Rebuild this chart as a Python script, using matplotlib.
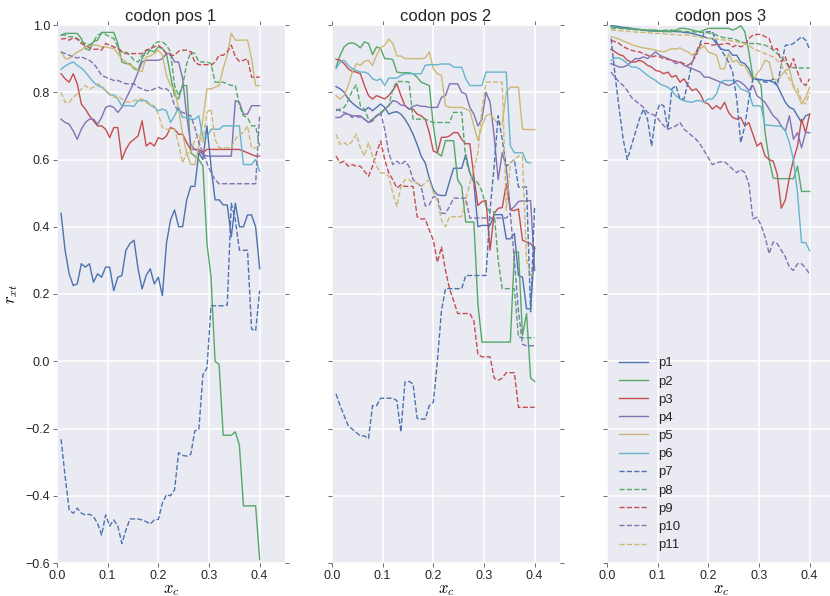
import numpy as np
import matplotlib
matplotlib.use("Agg")
import matplotlib.pyplot as plt

# sampling grid of the cutoff x_c
x_c = np.round(np.arange(1, 51) * 0.008, 3)

series_names = ["p1", "p2", "p3", "p4", "p5", "p6", "p7", "p8", "p9", "p10", "p11"]
panel_titles = ["codon pos 1", "codon pos 2", "codon pos 3"]

# ---- codon pos 1 ----
c1_p1 = [0.44,0.33,0.26,0.225,0.23,0.29,0.28,0.29,0.235,0.26, 0.25,0.28,0.28,0.21,0.25,0.255,0.33,0.35,0.36,0.275, 0.215,0.255,0.275,0.23,0.25,0.195,0.35,0.42,0.45,0.40, 0.40,0.48,0.52,0.52,0.62,0.60,0.70,0.58,0.48,0.48, 0.465,0.465,0.37,0.47,0.40,0.40,0.435,0.435,0.40,0.275]
c1_p2 = [0.97,0.975,0.975,0.975,0.975,0.96,0.93,0.925,0.95,0.955, 0.978,0.978,0.978,0.978,0.945,0.89,0.885,0.885,0.87,0.865, 0.90,0.925,0.925,0.92,0.935,0.93,0.915,0.85,0.79,0.78, 0.82,0.82,0.62,0.61,0.60,0.58,0.35,0.25,0.0,-0.01, -0.22,-0.22,-0.22,-0.21,-0.25,-0.43,-0.43,-0.43,-0.43,-0.59]
c1_p3 = [0.855,0.84,0.83,0.855,0.825,0.765,0.75,0.73,0.715,0.70, 0.70,0.69,0.665,0.695,0.695,0.60,0.63,0.65,0.66,0.67, 0.715,0.64,0.65,0.64,0.665,0.66,0.67,0.695,0.69,0.675, 0.675,0.65,0.63,0.63,0.63,0.62,0.63,0.63,0.63,0.63, 0.63,0.63,0.63,0.63,0.63,0.625,0.62,0.615,0.61,0.61]
c1_p4 = [0.72,0.71,0.705,0.685,0.66,0.69,0.71,0.72,0.72,0.705, 0.725,0.755,0.76,0.755,0.74,0.755,0.78,0.805,0.83,0.86, 0.89,0.895,0.895,0.895,0.895,0.90,0.915,0.915,0.89,0.89, 0.84,0.73,0.645,0.63,0.625,0.615,0.61,0.61,0.61,0.61, 0.61,0.61,0.61,0.775,0.77,0.735,0.735,0.76,0.76,0.76]
c1_p5 = [0.92,0.90,0.90,0.91,0.92,0.925,0.935,0.94,0.94,0.94, 0.935,0.935,0.932,0.93,0.915,0.90,0.89,0.88,0.875,0.865, 0.862,0.905,0.908,0.915,0.925,0.91,0.85,0.82,0.81,0.75, 0.675,0.62,0.585,0.585,0.64,0.72,0.81,0.81,0.815,0.82, 0.87,0.91,0.975,0.955,0.955,0.955,0.955,0.90,0.82,0.82]
c1_p6 = [0.868,0.878,0.885,0.89,0.88,0.872,0.86,0.845,0.83,0.82, 0.815,0.805,0.792,0.792,0.78,0.76,0.76,0.76,0.758,0.775, 0.775,0.775,0.762,0.755,0.745,0.75,0.745,0.71,0.73,0.755, 0.725,0.725,0.72,0.72,0.73,0.665,0.665,0.69,0.69,0.69, 0.70,0.70,0.70,0.70,0.70,0.585,0.585,0.585,0.60,0.565]
c1_p7 = [-0.232,-0.342,-0.442,-0.452,-0.437,-0.452,-0.457,-0.455,-0.462,-0.482, -0.517,-0.457,-0.49,-0.472,-0.49,-0.542,-0.502,-0.469,-0.469,-0.469, -0.472,-0.477,-0.484,-0.472,-0.47,-0.422,-0.397,-0.40,-0.382,-0.272, -0.28,-0.282,-0.277,-0.207,-0.202,-0.04,-0.02,0.165,0.165,0.165, 0.165,0.167,0.47,0.42,0.33,0.33,0.33,0.096,0.09,0.21]
c1_p8 = [0.97,0.97,0.965,0.965,0.96,0.95,0.945,0.94,0.95,0.97, 0.975,0.972,0.965,0.96,0.935,0.92,0.92,0.91,0.895,0.89, 0.91,0.91,0.925,0.945,0.95,0.95,0.94,0.92,0.82,0.79, 0.82,0.885,0.92,0.915,0.89,0.89,0.89,0.885,0.83,0.83, 0.83,0.825,0.82,0.82,0.76,0.73,0.725,0.70,0.70,0.64]
c1_p9 = [0.958,0.96,0.955,0.962,0.958,0.945,0.94,0.932,0.928,0.928, 0.925,0.945,0.94,0.935,0.93,0.92,0.915,0.915,0.915,0.915, 0.915,0.925,0.93,0.935,0.94,0.93,0.915,0.91,0.91,0.922, 0.925,0.925,0.92,0.89,0.882,0.882,0.882,0.88,0.89,0.91, 0.91,0.92,0.94,0.905,0.892,0.895,0.90,0.845,0.845,0.845]
c1_p10 = [0.92,0.915,0.91,0.905,0.902,0.905,0.90,0.895,0.885,0.87, 0.85,0.845,0.84,0.835,0.835,0.83,0.825,0.825,0.825,0.815, 0.81,0.805,0.805,0.81,0.815,0.81,0.81,0.80,0.76,0.745, 0.74,0.735,0.73,0.695,0.65,0.62,0.59,0.56,0.54,0.528, 0.528,0.528,0.528,0.528,0.528,0.528,0.528,0.528,0.528,0.73]
c1_p11 = [0.80,0.77,0.77,0.785,0.795,0.81,0.82,0.81,0.815,0.825, 0.82,0.805,0.795,0.785,0.79,0.78,0.772,0.77,0.775,0.78, 0.78,0.77,0.762,0.76,0.735,0.695,0.69,0.69,0.69,0.645, 0.59,0.62,0.62,0.66,0.675,0.65,0.74,0.75,0.66,0.635, 0.635,0.635,0.635,0.66,0.675,0.68,0.70,0.635,0.635,0.635]

# ---- codon pos 2 ----
c2_p1 = [0.817,0.81,0.80,0.78,0.768,0.758,0.75,0.745,0.755,0.745, 0.755,0.765,0.755,0.735,0.74,0.742,0.735,0.72,0.70,0.675, 0.645,0.61,0.59,0.545,0.51,0.495,0.493,0.493,0.535,0.574, 0.574,0.574,0.615,0.56,0.532,0.40,0.404,0.404,0.404,0.436, 0.436,0.436,0.364,0.364,0.38,0.255,0.25,0.156,0.156,0.34]
c2_p2 = [0.875,0.91,0.935,0.945,0.947,0.942,0.932,0.95,0.945,0.912, 0.935,0.93,0.90,0.90,0.897,0.86,0.858,0.858,0.858,0.855, 0.845,0.83,0.825,0.82,0.70,0.62,0.61,0.656,0.656,0.656, 0.54,0.52,0.414,0.414,0.414,0.17,0.057,0.057,0.057,0.057, 0.057,0.057,0.057,0.057,0.325,0.325,0.077,0.142,-0.05,-0.06]
c2_p3 = [0.898,0.895,0.885,0.87,0.862,0.86,0.855,0.82,0.79,0.78, 0.79,0.785,0.78,0.79,0.805,0.825,0.79,0.76,0.75,0.75, 0.735,0.73,0.72,0.68,0.625,0.62,0.666,0.666,0.67,0.68, 0.68,0.66,0.647,0.647,0.55,0.463,0.475,0.478,0.33,0.44, 0.455,0.457,0.528,0.45,0.448,0.453,0.36,0.354,0.35,0.335]
c2_p4 = [0.725,0.725,0.735,0.735,0.73,0.73,0.73,0.72,0.71,0.72, 0.73,0.735,0.75,0.76,0.775,0.772,0.762,0.76,0.75,0.758, 0.762,0.758,0.758,0.755,0.755,0.755,0.785,0.79,0.825,0.825, 0.825,0.80,0.795,0.755,0.735,0.70,0.72,0.80,0.77,0.67, 0.54,0.62,0.577,0.45,0.46,0.475,0.477,0.477,0.478,0.27]
c2_p5 = [0.79,0.78,0.79,0.82,0.86,0.885,0.88,0.892,0.895,0.88, 0.91,0.932,0.94,0.958,0.945,0.908,0.908,0.90,0.90,0.90, 0.90,0.90,0.902,0.92,0.87,0.855,0.85,0.76,0.755,0.755, 0.755,0.755,0.75,0.745,0.70,0.656,0.70,0.73,0.735,0.72, 0.706,0.706,0.80,0.815,0.815,0.815,0.69,0.689,0.689,0.689]
c2_p6 = [0.87,0.89,0.895,0.88,0.87,0.865,0.86,0.86,0.855,0.84, 0.835,0.84,0.82,0.842,0.842,0.842,0.85,0.855,0.855,0.855, 0.855,0.855,0.88,0.882,0.882,0.882,0.884,0.884,0.884,0.875, 0.874,0.874,0.84,0.82,0.82,0.82,0.82,0.86,0.86,0.86, 0.86,0.86,0.86,0.64,0.62,0.62,0.62,0.592,0.59,np.nan]
c2_p7 = [-0.097,-0.132,-0.162,-0.192,-0.202,-0.212,-0.222,-0.222,-0.23,-0.132, -0.132,-0.11,-0.11,-0.11,-0.11,-0.117,-0.21,-0.062,-0.06,-0.067, -0.17,-0.172,-0.172,-0.132,-0.122,0.0,0.15,0.216,0.216,0.216, 0.216,0.216,0.255,0.255,0.255,0.255,0.255,0.255,0.45,0.58, 0.73,0.66,0.58,0.59,0.60,0.518,0.518,0.518,0.147,0.463]
c2_p8 = [0.745,0.75,0.755,0.775,0.805,0.822,0.76,0.75,0.72,0.715, 0.73,0.74,0.75,0.76,0.81,0.832,0.832,0.832,0.83,0.72, 0.72,0.72,0.72,0.715,0.71,0.71,0.71,0.71,0.71,0.74, 0.74,0.74,0.60,0.56,0.543,0.53,0.505,0.46,0.444,0.444, 0.30,0.216,0.216,0.216,0.216,0.072,0.07,0.07,0.07,0.07]
c2_p9 = [0.61,0.59,0.595,0.58,0.585,0.58,0.58,0.565,0.55,0.58, 0.62,0.655,0.60,0.56,0.54,0.515,0.525,0.52,0.52,0.52, 0.43,0.423,0.423,0.39,0.36,0.294,0.34,0.27,0.216,0.18, 0.142,0.142,0.142,0.142,0.12,0.02,0.013,0.013,0.013,-0.05, -0.057,-0.05,-0.034,-0.034,-0.034,-0.137,-0.137,-0.137,-0.137,-0.137]
c2_p10 = [0.75,0.745,0.74,0.735,0.725,0.728,0.725,0.72,0.71,0.715, 0.73,0.74,0.69,0.62,0.585,0.595,0.585,0.595,0.58,0.54, 0.53,0.52,0.462,0.465,0.49,0.487,0.44,0.44,0.46,0.485, 0.485,0.485,0.485,0.426,0.426,0.426,0.426,0.426,0.426,0.426, 0.426,0.426,0.426,0.44,0.30,0.15,0.05,0.046,0.046,0.046]
c2_p11 = [0.675,0.645,0.65,0.642,0.655,0.675,0.635,0.61,0.65,0.61, 0.58,0.56,0.56,0.55,0.50,0.46,0.52,0.54,0.54,0.53, 0.53,0.52,0.53,0.54,0.50,0.478,0.42,0.40,0.43,0.43, 0.43,0.43,0.48,0.53,0.572,0.62,0.75,0.83,0.83,0.83, 0.83,0.83,0.45,0.59,0.60,0.61,0.61,0.30,0.255,0.255]

# ---- codon pos 3 ----
c3_p1 = [0.998,0.997,0.995,0.993,0.992,0.99,0.988,0.987,0.985,0.983, 0.982,0.982,0.982,0.98,0.982,0.982,0.98,0.98,0.978,0.977, 0.975,0.972,0.968,0.965,0.96,0.96,0.945,0.93,0.925,0.925, 0.91,0.91,0.89,0.885,0.87,0.84,0.838,0.838,0.835,0.835, 0.83,0.82,0.795,0.77,0.755,0.75,0.73,0.71,0.73,0.735]
c3_p2 = [0.995,0.993,0.992,0.99,0.99,0.988,0.987,0.986,0.985,0.985, 0.985,0.985,0.983,0.982,0.98,0.98,0.985,0.99,0.99,0.988, 0.985,0.982,0.98,0.985,0.99,0.99,0.99,0.99,0.99,0.99, 0.985,0.99,0.998,0.98,0.92,0.845,0.84,0.82,0.68,0.60, 0.545,0.543,0.543,0.543,0.543,0.543,0.58,0.505,0.505,0.505]
c3_p3 = [0.928,0.92,0.912,0.908,0.895,0.89,0.89,0.895,0.89,0.88, 0.875,0.865,0.862,0.855,0.86,0.845,0.85,0.83,0.84,0.82, 0.805,0.81,0.795,0.77,0.765,0.75,0.76,0.75,0.77,0.74, 0.725,0.72,0.725,0.70,0.71,0.675,0.64,0.65,0.61,0.60, 0.595,0.556,0.455,0.48,0.547,0.60,0.64,0.72,0.68,0.735]
c3_p4 = [0.885,0.88,0.875,0.875,0.88,0.89,0.90,0.90,0.905,0.90, 0.91,0.92,0.91,0.905,0.90,0.895,0.885,0.89,0.88,0.875, 0.87,0.865,0.86,0.845,0.845,0.84,0.835,0.83,0.825,0.82, 0.825,0.835,0.83,0.82,0.805,0.82,0.79,0.78,0.77,0.75, 0.73,0.72,0.70,0.685,0.73,0.66,0.68,0.635,0.68,0.68]
c3_p5 = [0.965,0.962,0.958,0.952,0.948,0.942,0.938,0.935,0.932,0.93, 0.928,0.925,0.922,0.92,0.925,0.93,0.928,0.932,0.925,0.92, 0.91,0.92,0.93,0.938,0.92,0.915,0.91,0.87,0.87,0.915, 0.89,0.895,0.88,0.88,0.855,0.835,0.855,0.87,0.895,0.89, 0.84,0.835,0.85,0.865,0.87,0.815,0.795,0.765,0.785,0.815]
c3_p6 = [0.895,0.902,0.902,0.895,0.885,0.875,0.875,0.87,0.86,0.85, 0.842,0.835,0.825,0.82,0.815,0.805,0.79,0.78,0.775,0.772, 0.77,0.775,0.775,0.77,0.78,0.78,0.795,0.83,0.835,0.835, 0.835,0.825,0.81,0.805,0.80,0.76,0.76,0.758,0.702,0.702, 0.70,0.70,0.698,0.685,0.65,0.60,0.50,0.353,0.353,0.328]
c3_p7 = [0.96,0.85,0.75,0.66,0.60,0.64,0.68,0.72,0.75,0.72, 0.64,0.73,0.765,0.76,0.69,0.81,0.82,0.78,0.78,0.83, 0.89,0.92,0.945,0.978,0.98,0.98,0.95,0.93,0.91,0.89, 0.86,0.78,0.65,0.70,0.78,0.84,0.84,0.835,0.83,0.83, 0.84,0.82,0.88,0.94,0.94,0.945,0.955,0.965,0.955,0.928]
c3_p8 = [0.99,0.99,0.99,0.989,0.988,0.987,0.986,0.985,0.985,0.984, 0.983,0.982,0.983,0.984,0.985,0.985,0.983,0.982,0.981,0.98, 0.98,0.979,0.978,0.978,0.976,0.975,0.97,0.965,0.962,0.96, 0.96,0.955,0.95,0.947,0.945,0.945,0.945,0.942,0.94,0.935, 0.925,0.915,0.905,0.89,0.875,0.873,0.872,0.872,0.872,0.872]
c3_p9 = [0.955,0.95,0.945,0.935,0.93,0.925,0.922,0.92,0.915,0.91, 0.905,0.908,0.905,0.90,0.898,0.895,0.892,0.89,0.885,0.88, 0.89,0.91,0.94,0.945,0.945,0.94,0.942,0.942,0.945,0.945, 0.935,0.94,0.935,0.94,0.96,0.97,0.972,0.972,0.965,0.96, 0.925,0.93,0.89,0.905,0.87,0.90,0.86,0.83,0.82,0.84]
c3_p10 = [0.86,0.845,0.83,0.82,0.805,0.785,0.775,0.765,0.755,0.74, 0.735,0.73,0.715,0.70,0.69,0.695,0.70,0.71,0.69,0.68, 0.67,0.66,0.645,0.625,0.605,0.585,0.59,0.593,0.593,0.583, 0.571,0.561,0.57,0.561,0.527,0.423,0.428,0.405,0.37,0.32, 0.355,0.35,0.33,0.31,0.28,0.27,0.29,0.29,0.277,0.259]
c3_p11 = [0.985,0.984,0.983,0.982,0.981,0.98,0.979,0.978,0.978,0.977, 0.976,0.975,0.975,0.974,0.972,0.972,0.971,0.97,0.97,0.97, 0.968,0.966,0.964,0.962,0.96,0.96,0.958,0.957,0.955,0.955, 0.952,0.95,0.947,0.945,0.94,0.93,0.925,0.92,0.915,0.91, 0.905,0.895,0.88,0.86,0.84,0.82,0.81,0.775,0.765,0.80]

panels = [
    [c1_p1, c1_p2, c1_p3, c1_p4, c1_p5, c1_p6, c1_p7, c1_p8, c1_p9, c1_p10, c1_p11],
    [c2_p1, c2_p2, c2_p3, c2_p4, c2_p5, c2_p6, c2_p7, c2_p8, c2_p9, c2_p10, c2_p11],
    [c3_p1, c3_p2, c3_p3, c3_p4, c3_p5, c3_p6, c3_p7, c3_p8, c3_p9, c3_p10, c3_p11],
]

palette = ["#4C72B0", "#55A868", "#C44E52", "#8172B2", "#CCB974", "#64B5CD"]

plt.rcParams.update({
    "font.family": ["Liberation Sans", "DejaVu Sans"],
    "mathtext.fontset": "cm",
    "axes.facecolor": "#EAEAF2",
    "figure.facecolor": "white",
    "axes.edgecolor": "white",
    "axes.linewidth": 0,
    "grid.color": "white",
    "grid.linewidth": 1.1,
    "text.color": "#262626",
    "xtick.color": "#262626",
    "ytick.color": "#262626",
})

fig = plt.figure(figsize=(8.3, 5.96), dpi=100)
W, H = 830.0, 596.0
lefts = [57, 332, 607]
aw = 228
bottom = 1 - 563 / H
height = (563 - 25) / H

axes = []
for i, lp in enumerate(lefts):
    ax = fig.add_axes([lp / W, bottom, aw / W, height])
    axes.append(ax)
    for j, (name, vals) in enumerate(zip(series_names, panels[i])):
        ls = "-" if j < 6 else "--"
        ax.plot(x_c, vals, color=palette[j % 6], lw=1.0, ls=ls, label=name)
    ax.set_xlim(0, 0.45)
    ax.set_ylim(-0.6, 1.0)
    ax.set_xticks([0.0, 0.1, 0.2, 0.3, 0.4])
    ax.set_yticks([-0.6, -0.4, -0.2, 0.0, 0.2, 0.4, 0.6, 0.8, 1.0])
    ax.grid(True, color="white", lw=1.1)
    ax.set_axisbelow(True)
    for s in ax.spines.values():
        s.set_visible(False)
    ax.tick_params(axis="both", which="both", direction="out", length=3,
                   width=0.6, color="#555555", labelsize=9, pad=2,
                   top=True, right=True)
    ax.set_title(panel_titles[i], fontsize=12, pad=3)
    ax.set_xlabel("$x_c$", fontsize=12, labelpad=1)
    if i == 0:
        ax.set_ylabel("$r_{xt}$", fontsize=12, labelpad=4)
        ax.set_yticklabels(["\u22120.6", "\u22120.4", "\u22120.2", "0.0", "0.2", "0.4", "0.6", "0.8", "1.0"])
    else:
        ax.tick_params(labelleft=False)

axes[2].legend(loc="lower left", fontsize=9.5, frameon=False, handlelength=2.2,
               labelspacing=0.45, borderaxespad=0.5)

fig.savefig("out.png", dpi=100)
